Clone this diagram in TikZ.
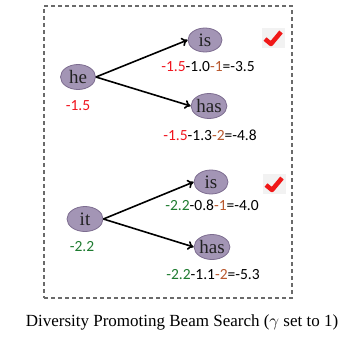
\documentclass[tikz,border=0pt]{standalone}
\usepackage{fontspec}
\setmainfont{Liberation Serif}
\newfontfamily\numfont{Carlito}
\usetikzlibrary{arrows.meta,shapes.geometric}
\definecolor{wfill}{HTML}{A395B5}
\definecolor{wdraw}{HTML}{7D6D90}
\definecolor{wtext}{HTML}{222222}
\definecolor{nred}{HTML}{F0141E}
\definecolor{ngreen}{HTML}{1E7B30}
\definecolor{nbrown}{HTML}{B8582E}
\definecolor{ckred}{HTML}{F01818}
\definecolor{ckbg}{HTML}{F2F2F2}
\definecolor{boxgray}{HTML}{6A6A6A}
\begin{document}
\begin{tikzpicture}[x=1pt,y=-1pt,
  word/.style={ellipse,draw=wdraw,line width=0.8pt,fill=wfill,minimum width=35pt,minimum height=25pt,inner sep=0pt,font=\fontsize{19}{19}\selectfont,text=wtext},
  score/.style={font=\numfont\fontsize{15.5}{15.5}\selectfont,inner sep=0pt},
  edge/.style={-{To[length=6pt,width=9pt]},line width=1.6pt,black},
  check/.style={ckred,line width=4.5pt,line join=round}]
\useasboundingbox (0,0) rectangle (350,338);
\node[draw=boxgray,line width=1.4pt,dash pattern=on 4pt off 3pt,minimum width=248pt,minimum height=292pt,inner sep=0pt] (frame) at (168,152) {};
% first group
\node[word] (he) at (78,77) {he};
\node[word,minimum width=34pt,minimum height=24pt] (is1) at (205,40) {is};
\node[word,minimum width=35pt] (has1) at (209,106) {has};
\node[score,text=nred] (lhe) at (78,106) {-1.5};
\node[score] (lis1) at (208,67) {\textcolor{nred}{-1.5}-1.0\textcolor{nbrown}{-1}=-3.5};
\node[score] (lhas1) at (210,135) {\textcolor{nred}{-1.5}-1.3\textcolor{nbrown}{-2}=-4.8};
\draw[edge] (he.east) -- (is1.west);
\draw[edge] (he.east) -- (has1.west);
% second group
\node[word,minimum width=36pt] (it) at (85,219) {it};
\node[word,minimum width=34pt,minimum height=24pt] (is2) at (211,182) {is};
\node[word,minimum width=35pt] (has2) at (212,247) {has};
\node[score,text=ngreen] (lit) at (82,247) {-2.2};
\node[score] (lis2) at (212,205) {\textcolor{ngreen}{-2.2}-0.8\textcolor{nbrown}{-1}=-4.0};
\node[score] (lhas2) at (213,275) {\textcolor{ngreen}{-2.2}-1.1\textcolor{nbrown}{-2}=-5.3};
\draw[edge] (it.east) -- (is2.west);
\draw[edge] (it.east) -- (has2.west);
% check marks
\node[fill=ckbg,minimum width=23pt,minimum height=20pt,inner sep=0pt] (ck1) at (273,38) {};
\draw[check] ([shift={(-8,1)}]ck1.center) -- ([shift={(-2,6)}]ck1.center) -- ([shift={(8,-6)}]ck1.center);
\node[fill=ckbg,minimum width=23pt,minimum height=20pt,inner sep=0pt] (ck2) at (274,184) {};
\draw[check] ([shift={(-8,1)}]ck2.center) -- ([shift={(-2,6)}]ck2.center) -- ([shift={(8,-6)}]ck2.center);
% caption
\node[font=\fontsize{17}{17}\selectfont,inner sep=0pt] (cap) at (182,322) {Diversity Promoting Beam Search ($\gamma$ set to 1)};
\end{tikzpicture}
\end{document}
